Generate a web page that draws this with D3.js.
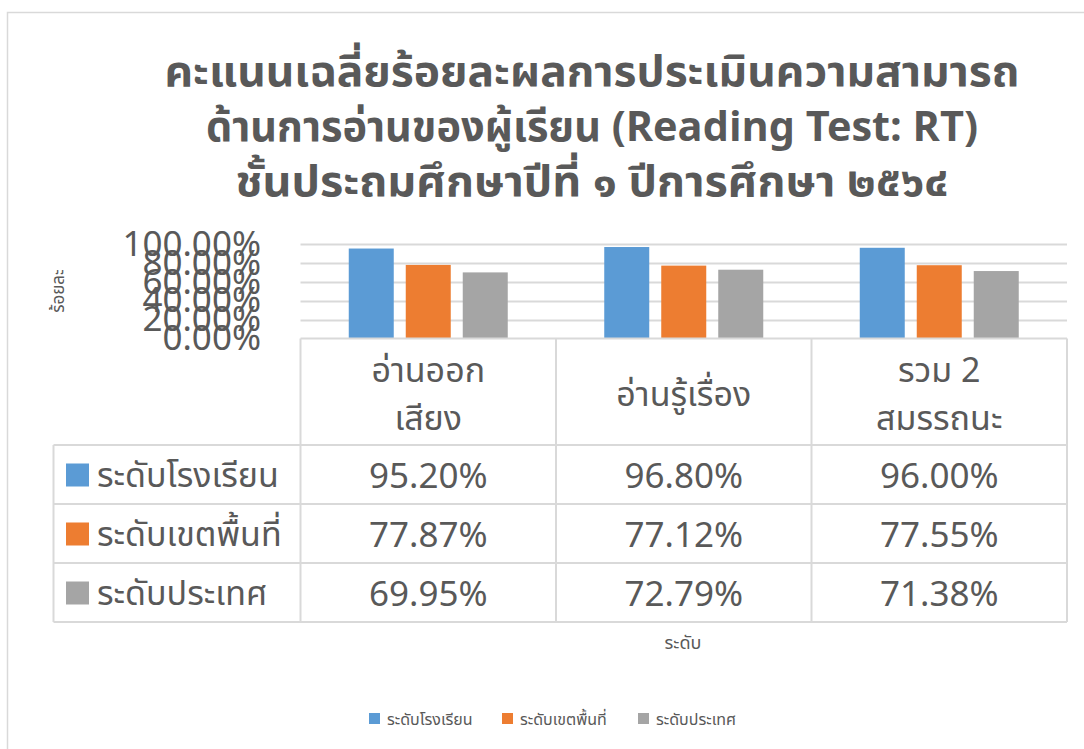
<!DOCTYPE html>
<html><head><meta charset="utf-8">
<script src="https://cdn.jsdelivr.net/npm/d3@7/dist/d3.min.js"></script>
<style>
html,body{margin:0;padding:0;background:#fff;}
svg{display:block;}
text{font-family:"Leelawadee UI","Noto Sans Thai","Noto Sans","DejaVu Sans",sans-serif;fill:#595959;}
</style></head>
<body>
<script>
const categories = ["อ่านออกเสียง", "อ่านรู้เรื่อง", "รวม 2 สมรรถนะ"];
const categoryLines = [["อ่านออก", "เสียง"], ["อ่านรู้เรื่อง"], ["รวม 2", "สมรรถนะ"]];
const seriesNames = ["ระดับโรงเรียน", "ระดับเขตพื้นที่", "ระดับประเทศ"];
const schoolValues = [95.20, 96.80, 96.00];
const areaValues = [77.87, 77.12, 77.55];
const nationValues = [69.95, 72.79, 71.38];
const yTicks = [0, 20, 40, 60, 80, 100];
const titleLines = ["คะแนนเฉลี่ยร้อยละผลการประเมินความสามารถ", "ด้านการอ่านของผู้เรียน (Reading Test: RT)", "ชั้นประถมศึกษาปีที่ ๑ ปีการศึกษา ๒๕๖๔"];
const yTitle = "ร้อยละ";
const xTitle = "ระดับ";
const colors = ["#5B9BD5", "#ED7D31", "#A5A5A5"];

const seriesValues = [schoolValues, areaValues, nationValues];
const W = 1084, H = 749;
const svg = d3.select("body").append("svg").attr("width", W).attr("height", H);

// outer chart border
svg.append("rect").attr("x", 7.5).attr("y", 12.5).attr("width", W + 20).attr("height", H + 20)
  .attr("fill", "none").attr("stroke", "#d9d9d9").attr("stroke-width", 1.5);

// title
const titleWidths = [855, 772, 713];
titleLines.forEach((t, i) => {
  svg.append("text").attr("text-anchor", "middle").attr("font-weight", "bold").attr("font-size", 42)
    .attr("x", 592).attr("y", 86 + i * 55)
    .attr("textLength", titleWidths[i]).attr("lengthAdjust", "spacingAndGlyphs")
    .text(t);
});

const plotLeft = 300.5, plotRight = 1067;
const x0 = d3.scaleBand().domain(categories).range([plotLeft, plotRight]).padding(0);
const y = d3.scaleLinear().domain([0, 100]).range([338.5, 244]);

// gridlines
svg.append("g").selectAll("line").data(yTicks.filter(d => d > 0)).join("line")
  .attr("x1", plotLeft).attr("x2", plotRight)
  .attr("y1", d => Math.round(y(d)) + 0.5).attr("y2", d => Math.round(y(d)) + 0.5)
  .attr("stroke", "#d9d9d9").attr("stroke-width", 2);

// y axis labels
const yAxis = d3.axisLeft(y).tickValues(yTicks).tickSize(0).tickPadding(0)
  .tickFormat(d => d3.format(".2f")(d) + "%");
const gy = svg.append("g").attr("transform", "translate(261,0)").call(yAxis);
gy.select(".domain").remove();
gy.selectAll("text").attr("font-size", 35).attr("fill", "#595959")
  .style("font-family", "'Leelawadee UI','Noto Sans Thai','Noto Sans',sans-serif");

// y title
svg.append("text").attr("transform", "translate(58,291) rotate(-90)").attr("text-anchor", "middle")
  .attr("dy", "0.35em").attr("font-size", 17).text(yTitle);

// bars
const x1 = d3.scaleBand().domain(seriesNames).range([-85.5, 85.5]).paddingInner(12 / 57).paddingOuter(6 / 57);
const barG = svg.append("g");
categories.forEach((c, ci) => {
  const cx = x0(c) + x0.bandwidth() / 2;
  seriesNames.forEach((s, si) => {
    const v = seriesValues[si][ci];
    barG.append("rect")
      .attr("x", cx + x1(s)).attr("width", x1.bandwidth())
      .attr("y", y(v)).attr("height", y(0) - y(v))
      .attr("fill", colors[si]);
  });
});

// data table
const tableLeft = 53.5, headerTop = 338.5, headerBottom = 445, rowH = 59;
const border = "#d9d9d9";
const tg = svg.append("g");
const line = (xa, ya, xb, yb) => tg.append("line").attr("x1", xa).attr("y1", ya).attr("x2", xb).attr("y2", yb)
  .attr("stroke", border).attr("stroke-width", 2);
line(plotLeft, headerTop, plotRight, headerTop);
categories.forEach((c) => line(x0(c), headerTop, x0(c), headerBottom + rowH * 3));
line(plotRight, headerTop, plotRight, headerBottom + rowH * 3);
line(tableLeft, headerBottom, tableLeft, headerBottom + rowH * 3);
for (let r = 0; r <= 3; r++) line(tableLeft, headerBottom + r * rowH, plotRight, headerBottom + r * rowH);

// category labels
categories.forEach((c, ci) => {
  const cx = x0(c) + x0.bandwidth() / 2;
  const lines = categoryLines[ci];
  const mid = (headerTop + headerBottom) / 2 + 2;
  const t = tg.append("text").attr("text-anchor", "middle").attr("font-size", 34);
  lines.forEach((l, li) => {
    t.append("tspan").attr("x", cx).attr("y", mid + (li - (lines.length - 1) / 2) * 48).attr("dy", "0.35em").text(l);
  });
});

// rows
seriesNames.forEach((s, si) => {
  const cy = headerBottom + si * rowH + rowH / 2;
  tg.append("rect").attr("x", 66).attr("y", cy - 11).attr("width", 23).attr("height", 23).attr("fill", colors[si]);
  tg.append("text").attr("x", 97).attr("y", cy + 1).attr("dy", "0.35em").attr("font-size", 34).text(s);
  categories.forEach((c) => {
    tg.append("text").attr("x", x0(c) + x0.bandwidth() / 2).attr("y", cy + 1).attr("dy", "0.35em")
      .attr("text-anchor", "middle").attr("font-size", 35)
      .text(d3.format(".2f")(seriesValues[si][categories.indexOf(c)]) + "%");
  });
});

// x title
svg.append("text").attr("x", 683).attr("y", 643).attr("dy", "0.35em").attr("text-anchor", "middle").attr("font-size", 18).text(xTitle);

// legend
const legendX = [369, 502, 638];
seriesNames.forEach((s, si) => {
  svg.append("rect").attr("x", legendX[si]).attr("y", 713).attr("width", 11).attr("height", 11).attr("fill", colors[si]);
  svg.append("text").attr("x", legendX[si] + 18).attr("y", 719).attr("dy", "0.35em").attr("font-size", 16).text(s);
});
</script>
</body></html>
